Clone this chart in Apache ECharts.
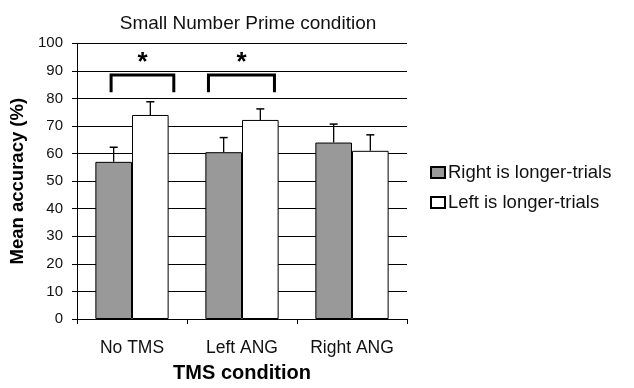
<!DOCTYPE html>
<html><head><meta charset="utf-8">
<script src="https://cdn.jsdelivr.net/npm/echarts@6/dist/echarts.min.js"></script>
<style>html,body{margin:0;padding:0;background:#fff}#c{width:634px;height:388px}</style>
</head><body><div id="c"></div>
<script>
const categories = ['No TMS', 'Left ANG', 'Right ANG'];
const rightLonger = [57, 60.5, 64];
const rightLongerErr = [5.3, 5.3, 6.7];
const leftLonger = [74, 72.2, 61];
const leftLongerErr = [4.8, 4, 5.8];
const yTicks = [0, 10, 20, 30, 40, 50, 60, 70, 80, 90, 100];
// significance brackets: category, left/right edge (fraction of band from centre), top, feet
const bracketCats = [0, 1];
const bracketFrom = [-0.19, -0.305];
const bracketTo = [0.38, 0.295];
const bracketTop = [88.5, 88.5];
const bracketFoot = [82.2, 82.2];
const starLevel = [93, 93];

const font = 'Liberation Sans, Arial, sans-serif';
const chart = echarts.init(document.getElementById('c'), null, {renderer: 'canvas'});

function errSeries(vals, errs, side) {
  return {
    type: 'custom', silent: true, z: 5,
    data: vals.map((v, i) => [i, v, v + errs[i]]),
    renderItem: function (params, api) {
      const band = api.size([1, 0])[0];
      const base = api.coord([api.value(0), api.value(1)]);
      const top = api.coord([api.value(0), api.value(2)]);
      const x = base[0] + side * band / 6;
      return {
        type: 'group', children: [
          {type: 'line', shape: {x1: x, y1: base[1], x2: x, y2: top[1]}, style: {stroke: '#000', lineWidth: 1.3}},
          {type: 'line', shape: {x1: x - 4, y1: top[1], x2: x + 4, y2: top[1]}, style: {stroke: '#000', lineWidth: 1.5}}
        ]
      };
    }
  };
}

chart.setOption({
  animation: false,
  backgroundColor: '#fff',
  title: {
    text: 'Small Number Prime condition', left: 243, textAlign: 'center', top: 9,
    textStyle: {fontFamily: font, fontSize: 19, fontWeight: 'normal', color: '#111'}
  },
  legend: {
    orient: 'vertical', left: 425, top: 158, itemGap: 11, itemWidth: 14, itemHeight: 11,
    icon: 'rect',
    data: ['Right is longer-trials', 'Left is longer-trials'],
    textStyle: {fontFamily: font, fontSize: 18.5, color: '#111', padding: [0, 0, 0, -2]}
  },
  grid: {left: 77, right: 227, top: 43.3, bottom: 68.7},
  xAxis: {
    type: 'category', data: categories,
    name: 'TMS condition', nameLocation: 'middle', nameGap: 44,
    nameTextStyle: {fontFamily: font, fontSize: 20, fontWeight: 'bold', color: '#000'},
    axisLine: {lineStyle: {color: '#000', width: 1}},
    axisTick: {show: true, length: 5, lineStyle: {color: '#000'}},
    axisLabel: {fontFamily: font, fontSize: 17.5, color: '#111', margin: 20}
  },
  yAxis: {
    type: 'value', min: 0, max: 100, interval: 10,
    name: 'Mean accuracy (%)', nameLocation: 'middle', nameGap: 44,
    nameTextStyle: {fontFamily: font, fontSize: 18.5, fontWeight: 'bold', color: '#000'},
    axisLine: {show: true, lineStyle: {color: '#000', width: 1}},
    axisTick: {show: true, length: 5, lineStyle: {color: '#000'}},
    axisLabel: {fontFamily: font, fontSize: 15, color: '#111', margin: 14,
      formatter: v => yTicks.includes(v) ? String(v) : ''},
    splitLine: {show: true, lineStyle: {color: '#000', width: 1}}
  },
  series: [
    {name: 'Right is longer-trials', type: 'bar', data: rightLonger, barWidth: '33.3%', barGap: '0%', z: 3,
      itemStyle: {color: '#999999', borderColor: '#000', borderWidth: 1}},
    {name: 'Left is longer-trials', type: 'bar', data: leftLonger, barWidth: '33.3%', barGap: '0%', z: 3,
      itemStyle: {color: '#ffffff', borderColor: '#000', borderWidth: 1}},
    errSeries(rightLonger, rightLongerErr, -1),
    errSeries(leftLonger, leftLongerErr, 1),
    {
      type: 'custom', silent: true, z: 6,
      data: bracketCats.map((c, i) => [c, bracketFrom[i], bracketTo[i], bracketTop[i], bracketFoot[i], starLevel[i]]),
      renderItem: function (params, api) {
        const band = api.size([1, 0])[0];
        const c = api.coord([api.value(0), api.value(3)]);
        const foot = api.coord([api.value(0), api.value(4)]);
        const star = api.coord([api.value(0), api.value(5)]);
        const x1 = c[0] + api.value(1) * band, x2 = c[0] + api.value(2) * band;
        return {
          type: 'group', children: [
            {type: 'polyline', shape: {points: [[x1, foot[1]], [x1, c[1]], [x2, c[1]], [x2, foot[1]]]},
              style: {stroke: '#000', lineWidth: 3, fill: null}},
            {type: 'text', style: {text: '*', x: (x1 + x2) / 2, y: star[1], align: 'center', verticalAlign: 'middle',
              font: 'bold 26px ' + font, fill: '#000'}}
          ]
        };
      }
    }
  ]
});
</script></body></html>
